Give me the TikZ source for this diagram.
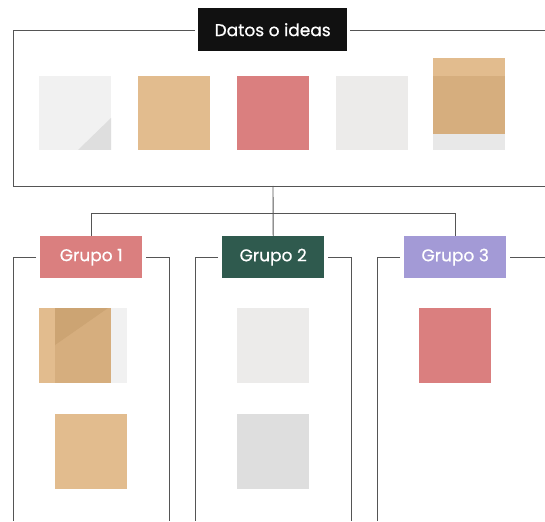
\documentclass[tikz,border=0pt]{standalone}
\usepackage{fontspec}
\setmainfont{Poppins}[FakeBold=0.6]
\definecolor{linegray}{HTML}{555555}
\definecolor{rosered}{HTML}{DA7F7F}
\definecolor{sand}{HTML}{E2BC8E}
\definecolor{sanddark}{HTML}{D6AE7E}
\definecolor{sanddarker}{HTML}{CCA473}
\definecolor{paper}{HTML}{ECEBEA}
\definecolor{paperlight}{HTML}{F1F1F1}
\definecolor{papermid}{HTML}{DEDEDE}
\definecolor{forest}{HTML}{2F5A4E}
\definecolor{lavender}{HTML}{A39AD6}
\definecolor{titleblack}{HTML}{111111}
\begin{document}
\begin{tikzpicture}[x=1pt,y=-1pt,
  frameline/.style={draw=linegray, line width=0.9pt},
  tag/.style={anchor=north west, inner sep=0pt, text=white, font=\fontsize{17}{20}\selectfont},
  sq/.style={anchor=north west, inner sep=0pt, minimum width=72pt, minimum height=74pt}]
\useasboundingbox[fill=white] (0,0) rectangle (545,521);

% top frame
\node[tag, fill=titleblack, minimum width=149pt, minimum height=43pt] (title) at (198,8) {Datos o ideas};
\draw[frameline] (195,30) -- (13,30) -- (13,186) -- (545,186);
\draw[frameline] (350,30) -- (545,30);

% top squares
\node[sq, fill=paperlight] (s1) at (39,76) {};
\fill[papermid] (111,118) -- (111,150) -- (78,150) -- cycle;
\node[sq, fill=sand] (s2) at (138,76) {};
\node[sq, fill=rosered] (s3) at (237,76) {};
\node[sq, fill=paper] (s4) at (336,76) {};
\node[sq, fill=sand, minimum height=18pt] (s5a) at (433,58) {};
\node[sq, fill=sanddark, minimum height=58pt] (s5b) at (433,76) {};
\node[sq, fill=papermid!70!white, minimum height=16pt] (s5c) at (433,134) {};

% group labels
\node[tag, fill=rosered, minimum width=102pt, minimum height=42pt] (g1) at (40,236) {Grupo 1};
\node[tag, fill=forest, minimum width=102pt, minimum height=42pt] (g2) at (222,236) {Grupo 2};
\node[tag, fill=lavender, minimum width=102pt, minimum height=42pt] (g3) at (404,236) {Grupo 3};

% connectors
\coordinate (fb) at (273,186);
\coordinate (jn) at (273,213);
\draw[frameline] (fb) -- (g2.north);
\draw[frameline] (jn) -| (g1.north);
\draw[frameline] (jn) -| (g3.north);

% group frames
\draw[frameline] (36,257) -- (13,257) -- (13,521);
\draw[frameline] (146,257) -- (169,257) -- (169,521);
\draw[frameline] (218,257) -- (195,257) -- (195,521);
\draw[frameline] (328,257) -- (351,257) -- (351,521);
\draw[frameline] (400,257) -- (377,257) -- (377,521);
\draw[frameline] (510,257) -- (545,257);

% group 1 squares
\node[sq, fill=sand, minimum width=16pt, minimum height=75pt] (h1a) at (39,308) {};
\node[sq, fill=sanddark, minimum width=56pt, minimum height=75pt] (h1b) at (55,308) {};
\fill[sanddarker] (55,308) -- (108,308) -- (55,345) -- cycle;
\node[sq, fill=paperlight, minimum width=16pt, minimum height=75pt] (h1c) at (111,308) {};
\node[sq, fill=sand, minimum height=75pt] (h2) at (55,414) {};

% group 2 squares
\node[sq, fill=paper, minimum height=75pt] (h3) at (237,308) {};
\node[sq, fill=papermid, minimum height=75pt] (h4) at (237,414) {};

% group 3 square
\node[sq, fill=rosered, minimum height=75pt] (h5) at (419,308) {};
\end{tikzpicture}
\end{document}
